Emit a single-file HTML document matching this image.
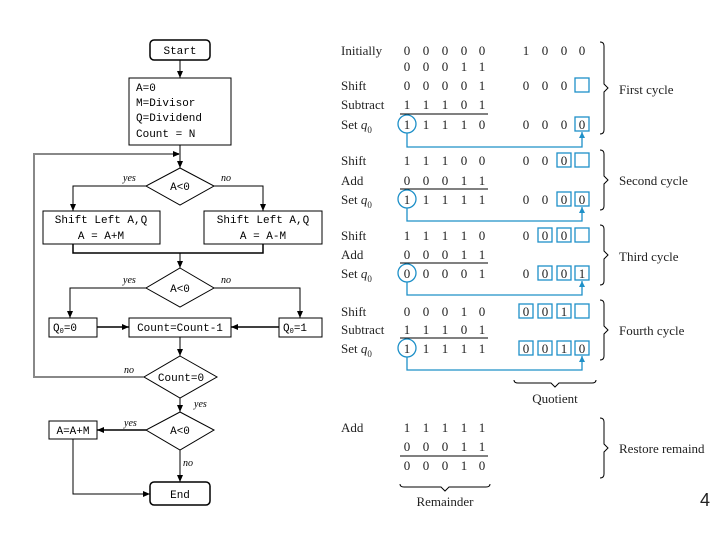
<!DOCTYPE html>
<html><head><style>body{margin:0;background:#fff}svg{display:block}</style></head><body>
<svg width="720" height="540" xmlns="http://www.w3.org/2000/svg">
<defs><marker id="a" markerWidth="8" markerHeight="8" refX="7" refY="4" orient="auto" markerUnits="userSpaceOnUse"><path d="M0,1 L7,4 L0,7z" fill="#000"/></marker>
<marker id="b" markerWidth="8" markerHeight="8" refX="6" refY="3" orient="auto" markerUnits="userSpaceOnUse"><path d="M0,0 L6,3 L0,6z" fill="#1e90c8"/></marker></defs>
<g font-family="Liberation Mono, monospace" font-size="11" fill="none" stroke="#000" stroke-width="1">
<rect x="150" y="40" width="60" height="20" rx="4" stroke-width="1.5"/>
<rect x="129" y="78" width="102" height="67"/>
<rect x="43" y="211" width="117" height="33"/>
<rect x="204" y="211" width="118" height="33"/>
<rect x="49" y="318" width="48" height="19"/>
<rect x="129" y="318" width="102" height="19"/>
<rect x="279" y="318" width="43" height="19"/>
<rect x="49" y="421" width="48" height="18"/>
<rect x="150" y="482" width="60" height="23" rx="4" stroke-width="1.5"/>
<path d="M180,168 L214,186 L180,205 L146,186Z M180,268 L214,288 L180,307 L146,288Z M180,356 L217,377 L180,398 L144,377Z M180,412 L214,430 L180,450 L146,430Z"/>
<g marker-end="url(#a)">
<path d="M180,60 V78"/><path d="M180,145 V168"/>
<path d="M34,378 V154 H180" stroke="#888" stroke-width="2"/>
<path d="M146,186 H73 V211"/><path d="M214,186 H263 V211"/>
<path d="M180,253 V268"/>
<path d="M146,288 H70 V318"/><path d="M214,288 H300 V318"/>
<path d="M97,327 H129" stroke-width="1.5"/><path d="M279,327 H231" stroke-width="1.5"/>
<path d="M180,337 V356"/><path d="M180,398 V412"/>
<path d="M146,430 H97" stroke-width="1.5"/><path d="M180,450 V482"/>
<path d="M73,439 V494 H150"/>
</g>
<path d="M73,244 V253 H263 V244" stroke-width="1.5"/>
<path d="M144,377 H34" stroke="#888" stroke-width="2"/>
<g fill="#000" stroke="none">
<text x="180" y="54" text-anchor="middle">Start</text>
<text x="136" y="91">A=0</text><text x="136" y="106">M=Divisor</text><text x="136" y="121">Q=Dividend</text><text x="136" y="137">Count = N</text>
<text x="180" y="190" text-anchor="middle">A&lt;0</text>
<text x="101" y="223" text-anchor="middle">Shift Left A,Q</text><text x="101" y="239" text-anchor="middle">A = A+M</text>
<text x="263" y="223" text-anchor="middle">Shift Left A,Q</text><text x="263" y="239" text-anchor="middle">A = A-M</text>
<text x="180" y="292" text-anchor="middle">A&lt;0</text>
<text x="53" y="331">Q<tspan font-size="7" dy="2">0</tspan><tspan dy="-2">=0</tspan></text>
<text x="180" y="331" text-anchor="middle">Count=Count-1</text>
<text x="283" y="331">Q<tspan font-size="7" dy="2">0</tspan><tspan dy="-2">=1</tspan></text>
<text x="181" y="381" text-anchor="middle">Count=0</text>
<text x="180" y="434" text-anchor="middle">A&lt;0</text>
<text x="73" y="434" text-anchor="middle">A=A+M</text>
<text x="180" y="498" text-anchor="middle">End</text>
<g font-family="Liberation Serif, serif" font-style="italic" font-size="10">
<text x="123" y="181">yes</text><text x="221" y="181">no</text>
<text x="123" y="283">yes</text><text x="221" y="283">no</text>
<text x="124" y="373">no</text><text x="194" y="407">yes</text>
<text x="124" y="426">yes</text><text x="183" y="466">no</text>
</g></g></g>
<g font-family="Liberation Serif, serif" font-size="13" fill="#222">
<text x="341" y="55">Initially</text><text x="341" y="90">Shift</text><text x="341" y="109">Subtract</text><text x="341" y="129">Set <tspan font-style="italic">q</tspan><tspan font-size="9" dy="4">0</tspan></text>
<text x="341" y="165">Shift</text><text x="341" y="185">Add</text><text x="341" y="204">Set <tspan font-style="italic">q</tspan><tspan font-size="9" dy="4">0</tspan></text>
<text x="341" y="240">Shift</text><text x="341" y="259">Add</text><text x="341" y="278">Set <tspan font-style="italic">q</tspan><tspan font-size="9" dy="4">0</tspan></text>
<text x="341" y="316">Shift</text><text x="341" y="334">Subtract</text><text x="341" y="353">Set <tspan font-style="italic">q</tspan><tspan font-size="9" dy="4">0</tspan></text>
<text x="341" y="432">Add</text>
<g text-anchor="middle">
<g font-size="13">
<text y="55"><tspan x="407">0</tspan><tspan x="426">0</tspan><tspan x="445">0</tspan><tspan x="464">0</tspan><tspan x="482">0</tspan><tspan x="526">1</tspan><tspan x="545">0</tspan><tspan x="564">0</tspan><tspan x="582">0</tspan></text>
<text y="71"><tspan x="407">0</tspan><tspan x="426">0</tspan><tspan x="445">0</tspan><tspan x="464">1</tspan><tspan x="482">1</tspan></text>
<text y="90"><tspan x="407">0</tspan><tspan x="426">0</tspan><tspan x="445">0</tspan><tspan x="464">0</tspan><tspan x="482">1</tspan><tspan x="526">0</tspan><tspan x="545">0</tspan><tspan x="564">0</tspan></text>
<text y="109"><tspan x="407">1</tspan><tspan x="426">1</tspan><tspan x="445">1</tspan><tspan x="464">0</tspan><tspan x="482">1</tspan></text>
<text y="129"><tspan x="407">1</tspan><tspan x="426">1</tspan><tspan x="445">1</tspan><tspan x="464">1</tspan><tspan x="482">0</tspan><tspan x="526">0</tspan><tspan x="545">0</tspan><tspan x="564">0</tspan><tspan x="582">0</tspan></text>
<text y="165"><tspan x="407">1</tspan><tspan x="426">1</tspan><tspan x="445">1</tspan><tspan x="464">0</tspan><tspan x="482">0</tspan><tspan x="526">0</tspan><tspan x="545">0</tspan><tspan x="564">0</tspan></text>
<text y="185"><tspan x="407">0</tspan><tspan x="426">0</tspan><tspan x="445">0</tspan><tspan x="464">1</tspan><tspan x="482">1</tspan></text>
<text y="204"><tspan x="407">1</tspan><tspan x="426">1</tspan><tspan x="445">1</tspan><tspan x="464">1</tspan><tspan x="482">1</tspan><tspan x="526">0</tspan><tspan x="545">0</tspan><tspan x="564">0</tspan><tspan x="582">0</tspan></text>
<text y="240"><tspan x="407">1</tspan><tspan x="426">1</tspan><tspan x="445">1</tspan><tspan x="464">1</tspan><tspan x="482">0</tspan><tspan x="526">0</tspan><tspan x="545">0</tspan><tspan x="564">0</tspan></text>
<text y="259"><tspan x="407">0</tspan><tspan x="426">0</tspan><tspan x="445">0</tspan><tspan x="464">1</tspan><tspan x="482">1</tspan></text>
<text y="278"><tspan x="407">0</tspan><tspan x="426">0</tspan><tspan x="445">0</tspan><tspan x="464">0</tspan><tspan x="482">1</tspan><tspan x="526">0</tspan><tspan x="545">0</tspan><tspan x="564">0</tspan><tspan x="582">1</tspan></text>
<text y="316"><tspan x="407">0</tspan><tspan x="426">0</tspan><tspan x="445">0</tspan><tspan x="464">1</tspan><tspan x="482">0</tspan><tspan x="526">0</tspan><tspan x="545">0</tspan><tspan x="564">1</tspan></text>
<text y="334"><tspan x="407">1</tspan><tspan x="426">1</tspan><tspan x="445">1</tspan><tspan x="464">0</tspan><tspan x="482">1</tspan></text>
<text y="353"><tspan x="407">1</tspan><tspan x="426">1</tspan><tspan x="445">1</tspan><tspan x="464">1</tspan><tspan x="482">1</tspan><tspan x="526">0</tspan><tspan x="545">0</tspan><tspan x="564">1</tspan><tspan x="582">0</tspan></text>
<text y="432"><tspan x="407">1</tspan><tspan x="426">1</tspan><tspan x="445">1</tspan><tspan x="464">1</tspan><tspan x="482">1</tspan></text>
<text y="451"><tspan x="407">0</tspan><tspan x="426">0</tspan><tspan x="445">0</tspan><tspan x="464">1</tspan><tspan x="482">1</tspan></text>
<text y="470"><tspan x="407">0</tspan><tspan x="426">0</tspan><tspan x="445">0</tspan><tspan x="464">1</tspan><tspan x="482">0</tspan></text>
</g>
<text x="555" y="403">Quotient</text><text x="445" y="506">Remainder</text></g>
<text x="619" y="94">First cycle</text><text x="619" y="185">Second cycle</text><text x="619" y="261">Third cycle</text><text x="619" y="335">Fourth cycle</text><text x="619" y="453">Restore remaind</text>
<text x="700" y="506" font-family="Liberation Sans, sans-serif" font-size="18">4</text>
</g>
<g fill="none" stroke="#000" stroke-width="1">
<path d="M400,114 H488 M400,189 H488 M400,263 H488 M400,338 H488 M400,456 H488" />
<path d="M600,42 q4,0 4,4 v38 l4,4 l-4,4 v38 q0,4 -4,4 M600,150 q4,0 4,4 v22 l4,4 l-4,4 v22 q0,4 -4,4 M600,225 q4,0 4,4 v22 l4,4 l-4,4 v22 q0,4 -4,4 M600,300 q4,0 4,4 v22 l4,4 l-4,4 v22 q0,4 -4,4 M600,418 q4,0 4,4 v22 l4,4 l-4,4 v22 q0,4 -4,4"/>
<path d="M514,380 q0,3 4,3 h33 l4,4 l4,-4 h33 q4,0 4,-3 M400,484 q0,3 4,3 h37 l4,4 l4,-4 h37 q4,0 4,-3"/>
</g>
<g fill="none" stroke="#1e90c8" stroke-width="1.3">
<circle cx="407" cy="124" r="9"/><circle cx="407" cy="199" r="9"/><circle cx="407" cy="273" r="9"/><circle cx="407" cy="348" r="9"/>
<rect x="575" y="78" width="14" height="14"/><rect x="575" y="117" width="14" height="14"/>
<rect x="557" y="153" width="14" height="14"/><rect x="575" y="153" width="14" height="14"/>
<rect x="557" y="192" width="14" height="14"/><rect x="575" y="192" width="14" height="14"/>
<rect x="538" y="228" width="14" height="14"/><rect x="557" y="228" width="14" height="14"/><rect x="575" y="228" width="14" height="14"/>
<rect x="538" y="266" width="14" height="14"/><rect x="557" y="266" width="14" height="14"/><rect x="575" y="266" width="14" height="14"/>
<rect x="519" y="304" width="14" height="14"/><rect x="538" y="304" width="14" height="14"/><rect x="557" y="304" width="14" height="14"/><rect x="575" y="304" width="14" height="14"/>
<rect x="519" y="341" width="14" height="14"/><rect x="538" y="341" width="14" height="14"/><rect x="557" y="341" width="14" height="14"/><rect x="575" y="341" width="14" height="14"/>
<g marker-end="url(#b)">
<path d="M407,133 V147 H582 V132"/><path d="M407,208 V221 H582 V207"/><path d="M407,282 V295 H582 V281"/><path d="M407,357 V370 H582 V356"/>
</g></g>
</svg>
</body></html>
